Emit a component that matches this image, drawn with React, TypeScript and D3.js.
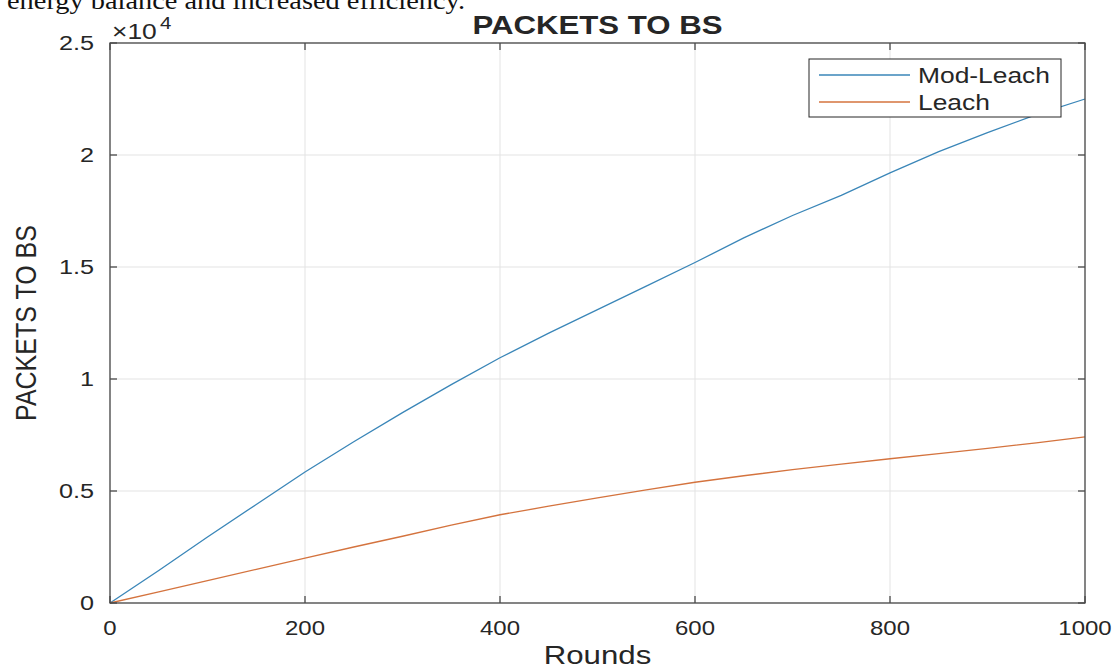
import React from "react";
import * as d3 from "d3";

// data (packets to base station per round)
const rounds = [0, 50, 100, 150, 200, 250, 300, 350, 400, 450, 500, 550, 600, 650, 700, 750, 800, 850, 900, 950, 1000];
const modLeach = [0, 1450, 2950, 4400, 5850, 7200, 8500, 9750, 10950, 12050, 13100, 14150, 15200, 16300, 17300, 18200, 19200, 20150, 21000, 21800, 22500];
const leach = [0, 500, 1000, 1500, 2000, 2500, 2980, 3480, 3940, 4320, 4690, 5050, 5390, 5680, 5950, 6200, 6440, 6670, 6900, 7150, 7420];
const seriesNames = ["Mod-Leach", "Leach"];
const seriesColors = ["#3a86b8", "#d4733e"];
const xTicks = [0, 200, 400, 600, 800, 1000];
const yTicks = [0, 0.5, 1, 1.5, 2, 2.5];

const W = 1119, H = 668;
const margin = { left: 110, right: 34, top: 43, bottom: 65 };
const SX = 1.2; // the source picture is stretched sideways
const FONT = "'Liberation Sans', Arial, Helvetica, sans-serif";

const Txt = ({ x, y, anchor = "start", size, weight = "normal", children, rotate = 0 }: any) => (
  <text
    transform={`translate(${x},${y}) rotate(${rotate}) scale(${rotate ? 1 : SX},${rotate ? SX : 1})`}
    textAnchor={anchor}
    fontSize={size}
    fontWeight={weight}
    fontFamily={FONT}
    fill="#262626"
  >
    {children}
  </text>
);

export default function App() {
  const x = d3.scaleLinear().domain([0, 1000]).range([margin.left, W - margin.right]);
  const y = d3.scaleLinear().domain([0, 25000]).range([H - margin.bottom, margin.top]);
  const x0 = x(0), x1 = x(1000), y0 = y(0), y1 = y(25000);

  const line = d3.line<number>()
    .x((_, i) => x(rounds[i]))
    .y((d) => y(d));

  const series = [modLeach, leach];

  return (
    <svg width={W} height={H} style={{ position: "absolute", left: 0, top: 0, background: "#fff" }}>
      {/* clipped caption from the page above */}
      <text x={7} y={9} fontFamily="'Liberation Serif', 'Times New Roman', serif" fontSize={25} textLength={458} lengthAdjust="spacingAndGlyphs" fill="#111">
        energy balance and increased efficiency.
      </text>

      {/* grid */}
      {xTicks.map((t) => (
        <line key={"gx" + t} x1={x(t)} x2={x(t)} y1={y0} y2={y1} stroke="#e3e3e3" strokeWidth={1} />
      ))}
      {yTicks.map((t) => (
        <line key={"gy" + t} x1={x0} x2={x1} y1={y(t * 1e4)} y2={y(t * 1e4)} stroke="#e3e3e3" strokeWidth={1} />
      ))}

      {/* lines */}
      {series.map((s, i) => (
        <path key={i} d={line(s) || ""} fill="none" stroke={seriesColors[i]} strokeWidth={1.3} />
      ))}

      {/* frame and ticks */}
      <rect x={x0} y={y1} width={x1 - x0} height={y0 - y1} fill="none" stroke="#4a4a4a" strokeWidth={1.3} />
      {xTicks.map((t) => (
        <g key={"tx" + t}>
          <line x1={x(t)} x2={x(t)} y1={y0} y2={y0 - 7} stroke="#4a4a4a" strokeWidth={1.3} />
          <line x1={x(t)} x2={x(t)} y1={y1} y2={y1 + 7} stroke="#4a4a4a" strokeWidth={1.3} />
          <Txt x={x(t)} y={635} anchor="middle" size={20}>{t}</Txt>
        </g>
      ))}
      {yTicks.map((t) => (
        <g key={"ty" + t}>
          <line x1={x0} x2={x0 + 7} y1={y(t * 1e4)} y2={y(t * 1e4)} stroke="#4a4a4a" strokeWidth={1.3} />
          <line x1={x1} x2={x1 - 7} y1={y(t * 1e4)} y2={y(t * 1e4)} stroke="#4a4a4a" strokeWidth={1.3} />
          <Txt x={94} y={y(t * 1e4) + 7} anchor="end" size={21}>{String(t)}</Txt>
        </g>
      ))}

      {/* exponent */}
      <Txt x={112} y={39} size={22}>×10</Txt>
      <Txt x={160} y={29} size={17}>4</Txt>

      {/* title and labels */}
      <Txt x={(x0 + x1) / 2} y={34} anchor="middle" size={26} weight="bold">PACKETS TO BS</Txt>
      <Txt x={(x0 + x1) / 2} y={664} anchor="middle" size={26}>Rounds</Txt>
      <Txt x={36} y={(y0 + y1) / 2} anchor="middle" size={25} rotate={-90}>PACKETS TO BS</Txt>

      {/* legend */}
      <rect x={809} y={59} width={252} height={58} fill="#fff" stroke="#262626" strokeWidth={1} />
      {seriesNames.map((n, i) => (
        <g key={n}>
          <line x1={819} x2={910} y1={75 + i * 27} y2={75 + i * 27} stroke={seriesColors[i]} strokeWidth={1.3} />
          <Txt x={918} y={83 + i * 27} size={22}>{n}</Txt>
        </g>
      ))}
    </svg>
  );
}
